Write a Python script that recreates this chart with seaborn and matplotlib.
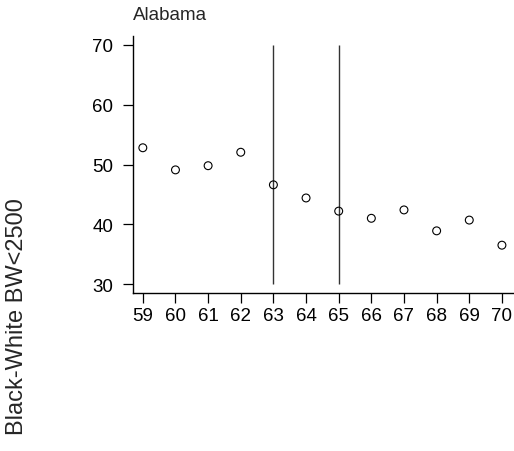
import matplotlib
matplotlib.use("Agg")
import matplotlib.pyplot as plt
import seaborn as sns
import pandas as pd

years = [59, 60, 61, 62, 63, 64, 65, 66, 67, 68, 69, 70]
values = [52.8, 49.1, 49.8, 52.05, 46.6, 44.4, 42.2, 41.0, 42.4, 38.9, 40.7, 36.5]
break_years = [63, 65]
y_ticks = [30, 40, 50, 60, 70]
state = "Alabama"
y_label = "Black-White BW<2500"

sns.set_style("white")
plt.rcParams["font.family"] = ["Liberation Sans", "DejaVu Sans"]

df = pd.DataFrame({"year": years, "value": values})

W, H = 514, 452
fig = plt.figure(figsize=(W / 100, H / 100), dpi=100)
ax = fig.add_axes([132.7 / W, 1 - 294 / H, 1 - 132.7 / W, (294 - 37) / H])

sns.scatterplot(data=df, x="year", y="value", ax=ax, marker="o", s=32,
                facecolor="none", edgecolor="black", linewidth=0.8, zorder=3)
ax.vlines(break_years, 30, 70, color="#333333", linewidth=1.0)

ax.set_xlim(58.69, 70.37)
ax.set_ylim(28.5, 71.5)
ax.set_xticks(years)
ax.set_yticks(y_ticks)
ax.set_xlabel("")
ax.set_ylabel("")
for s in ["top", "right"]:
    ax.spines[s].set_visible(False)
for s in ["left", "bottom"]:
    ax.spines[s].set_color("black")
    ax.spines[s].set_linewidth(1.0)
ax.tick_params(axis="both", direction="out", length=7, width=0.9,
               colors="black", labelsize=13.5, pad=3,
               bottom=True, left=True)
ax.tick_params(axis="y", pad=7)

ax.set_title(state, loc="left", fontsize=13.5, pad=12, x=0.0)
fig.text(17 / W, 1 - 317 / H, y_label, rotation=90, ha="center", va="center",
         fontsize=17)

fig.savefig("out.png", dpi=100)
